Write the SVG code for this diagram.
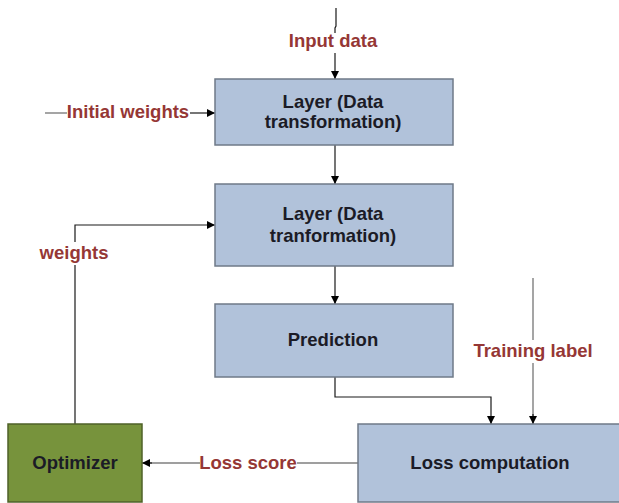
<svg xmlns="http://www.w3.org/2000/svg" width="619" height="503" viewBox="0 0 619 503">
  <style>
    .box { fill: #b1c2da; stroke: #6f7a88; stroke-width: 1.5; }
    .opt { fill: #77933c; stroke: #4f6228; stroke-width: 1.5; }
    .node-text { font-family: "Liberation Sans", Arial, sans-serif; font-size: 18.5px; font-weight: bold; fill: #1b1b26; text-anchor: middle; }
    .label { font-family: "Liberation Sans", Arial, sans-serif; font-size: 18.5px; font-weight: bold; fill: #953735; text-anchor: middle; }
    .wire { fill: none; stroke: #1a1a1a; stroke-width: 1.2; }
    .wire-grey { fill: none; stroke: #7f7f7f; stroke-width: 1.4; }
  </style>
  <defs>
    <marker id="arrow" viewBox="0 0 10 10" refX="10" refY="5" markerWidth="8" markerHeight="8" markerUnits="userSpaceOnUse" orient="auto">
      <path d="M0,0 L10,5 L0,10 Z" fill="#000"/>
    </marker>
  </defs>

  <rect width="619" height="503" fill="#ffffff"/>

  <!-- connectors -->
  <g id="connectors">
    <!-- input data -->
    <path class="wire" d="M336,8 V26 L335,28 V33"/>
    <path class="wire" d="M335,53 V79" marker-end="url(#arrow)"/>
    <!-- initial weights -->
    <path class="wire-grey" d="M45,113 H67"/>
    <path class="wire" d="M190,113 H215" marker-end="url(#arrow)"/>
    <!-- layer to layer -->
    <path class="wire" d="M335,145 V184" marker-end="url(#arrow)"/>
    <!-- layer to prediction -->
    <path class="wire" d="M335,266 V304" marker-end="url(#arrow)"/>
    <!-- prediction to loss computation -->
    <path class="wire" d="M335,377 V397 H491 V424" marker-end="url(#arrow)"/>
    <!-- training label -->
    <path class="wire-grey" d="M533,278 V340"/>
    <path class="wire-grey" d="M533,363 V416"/>
    <path class="wire" d="M533,414 V424" marker-end="url(#arrow)"/>
    <!-- loss score -->
    <path class="wire-grey" d="M358,463 H297"/>
    <path class="wire-grey" d="M200,463 H150"/>
    <path class="wire" d="M152,463 H142" marker-end="url(#arrow)"/>
    <!-- weights feedback -->
    <path class="wire" d="M75,424 V265"/>
    <path class="wire" d="M75,242 V225 H215" marker-end="url(#arrow)"/>
  </g>

  <!-- edge labels -->
  <g id="labels">
    <text class="label" x="333" y="47">Input data</text>
    <text class="label" x="128" y="118">Initial weights</text>
    <text class="label" x="74" y="259">weights</text>
    <text class="label" x="533" y="357">Training label</text>
    <text class="label" x="248" y="469">Loss score</text>
  </g>

  <g id="layer1">
    <rect class="box" x="215" y="79" width="238" height="66"/>
    <text class="node-text" x="333" y="108">Layer (Data</text>
    <text class="node-text" x="333" y="128">transformation)</text>
  </g>

  <g id="layer2">
    <rect class="box" x="215" y="184" width="238" height="82"/>
    <text class="node-text" x="333" y="220">Layer (Data</text>
    <text class="node-text" x="333" y="242">tranformation)</text>
  </g>

  <g id="prediction">
    <rect class="box" x="215" y="304" width="238" height="73"/>
    <text class="node-text" x="333" y="346">Prediction</text>
  </g>

  <g id="loss">
    <rect class="box" x="358" y="424" width="268" height="78"/>
    <text class="node-text" x="490" y="469">Loss computation</text>
  </g>

  <g id="optimizer">
    <rect class="opt" x="8" y="424" width="134" height="78"/>
    <text class="node-text" x="75" y="469">Optimizer</text>
  </g>
</svg>
